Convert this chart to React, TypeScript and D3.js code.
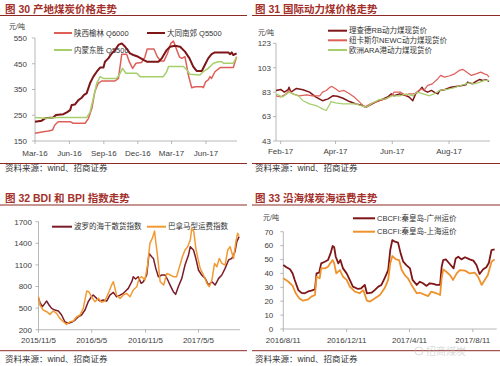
import React from "react";
import * as d3 from "d3";

type Pt = [string, number];

// ---------------- 图30 产地煤炭价格走势 ----------------
const p30XTicks = ["2016-03-01", "2016-06-01", "2016-09-01", "2016-12-01", "2017-03-01", "2017-06-01"];
const p30XLabels = ["Mar-16", "Jun-16", "Sep-16", "Dec-16", "Mar-17", "Jun-17"];
const p30YTicks = [150, 250, 350, 450, 550];
const p30Names = ["陕西榆林 Q6000", "大同南郊 Q5500", "内蒙东胜 Q5500"];
const yulinQ6000: Pt[] = [
  ["2016-03-01", 180], ["2016-03-23", 186], ["2016-04-06", 189], ["2016-04-17", 193], ["2016-04-23", 212],
  ["2016-05-02", 225], ["2016-06-03", 225], ["2016-06-11", 219], ["2016-07-13", 219], ["2016-07-22", 238],
  ["2016-07-31", 277], ["2016-08-08", 342], ["2016-08-17", 374], ["2016-08-26", 383], ["2016-10-01", 383],
  ["2016-10-10", 393], ["2016-10-19", 487], ["2016-11-01", 487], ["2016-11-08", 458], ["2016-11-17", 432],
  ["2016-11-26", 452], ["2016-12-11", 455], ["2016-12-20", 477], ["2016-12-26", 507], ["2017-01-13", 507],
  ["2017-01-22", 477], ["2017-01-31", 461], ["2017-02-09", 461], ["2017-02-18", 490], ["2017-02-27", 529],
  ["2017-03-06", 538], ["2017-03-15", 503], ["2017-03-22", 477], ["2017-03-28", 471], ["2017-04-06", 477],
  ["2017-04-15", 406], ["2017-04-24", 357], ["2017-05-03", 361], ["2017-05-21", 361], ["2017-05-25", 357],
  ["2017-05-31", 380], ["2017-06-07", 387], ["2017-06-12", 400], ["2017-06-16", 393], ["2017-06-25", 419],
  ["2017-07-09", 435], ["2017-08-13", 435], ["2017-08-22", 477],
];
const datongQ5500: Pt[] = [
  ["2016-03-01", 225], ["2016-03-19", 229], ["2016-03-28", 238], ["2016-04-19", 241], ["2016-04-26", 251],
  ["2016-05-16", 254], ["2016-05-25", 261], ["2016-06-03", 270], ["2016-06-07", 290], ["2016-06-16", 292],
  ["2016-06-25", 309], ["2016-07-04", 318], ["2016-07-10", 329], ["2016-07-17", 335], ["2016-07-26", 374],
  ["2016-08-04", 400], ["2016-08-13", 419], ["2016-08-22", 435], ["2016-08-31", 435], ["2016-09-04", 458],
  ["2016-09-13", 471], ["2016-09-22", 490], ["2016-10-01", 503], ["2016-10-10", 523], ["2016-10-19", 529],
  ["2016-10-28", 516], ["2016-11-10", 490], ["2016-11-19", 484], ["2016-12-02", 477], ["2016-12-16", 465],
  ["2016-12-25", 458], ["2017-01-25", 458], ["2017-02-03", 471], ["2017-02-16", 503], ["2017-02-25", 516],
  ["2017-03-10", 520], ["2017-03-24", 516], ["2017-04-06", 497], ["2017-04-18", 471], ["2017-04-28", 439],
  ["2017-05-07", 422], ["2017-05-21", 422], ["2017-05-30", 448], ["2017-06-07", 471], ["2017-06-16", 487],
  ["2017-06-25", 494], ["2017-07-31", 494], ["2017-08-04", 487], ["2017-08-09", 494], ["2017-08-13", 484],
  ["2017-08-22", 490],
];
const dongshengQ5500: Pt[] = [
  ["2016-03-01", 241], ["2016-04-01", 238], ["2016-04-28", 241], ["2016-07-17", 241], ["2016-07-26", 261],
  ["2016-08-04", 316], ["2016-08-13", 374], ["2016-08-22", 400], ["2016-08-31", 393], ["2016-10-05", 393],
  ["2016-10-12", 406], ["2016-10-21", 432], ["2016-10-30", 413], ["2016-11-28", 413], ["2016-12-07", 400],
  ["2017-02-07", 400], ["2017-02-16", 419], ["2017-02-21", 439], ["2017-04-02", 439], ["2017-04-11", 426],
  ["2017-04-19", 409], ["2017-05-16", 406], ["2017-05-25", 419], ["2017-06-07", 432], ["2017-06-16", 445],
  ["2017-06-21", 452], ["2017-07-04", 458], ["2017-07-13", 458], ["2017-07-18", 452], ["2017-08-13", 452],
  ["2017-08-22", 477],
];

// ---------------- 图31 国际动力煤价格走势 ----------------
const p31XTicks = ["2017-02-01", "2017-04-01", "2017-06-01", "2017-08-01"];
const p31XLabels = ["Feb-17", "Apr-17", "Jun-17", "Aug-17"];
const p31YTicks = [43, 63, 83, 103, 123];
const p31Names = ["理查德RB动力煤现货价", "纽卡斯尔NEWC动力煤现货价", "欧洲ARA港动力煤现货价"];
const richardsBay: Pt[] = [
  ["2017-01-27", 84.4], ["2017-02-01", 85.2], ["2017-02-05", 83], ["2017-02-09", 85], ["2017-02-10", 87],
  ["2017-02-12", 83], ["2017-02-18", 86], ["2017-02-25", 85], ["2017-03-04", 83], ["2017-03-11", 79],
  ["2017-03-18", 76], ["2017-03-24", 77.5], ["2017-03-29", 80], ["2017-04-03", 79.7], ["2017-04-09", 78],
  ["2017-04-16", 75.3], ["2017-04-23", 73.4], ["2017-04-30", 72], ["2017-05-04", 70.7], ["2017-05-07", 72],
  ["2017-05-14", 74.8], ["2017-05-21", 77], ["2017-05-27", 79], ["2017-05-31", 81.6], ["2017-06-03", 80],
  ["2017-06-09", 81.6], ["2017-06-16", 80], ["2017-06-19", 79], ["2017-06-23", 76], ["2017-06-26", 81.6],
  ["2017-06-30", 84.4], ["2017-07-03", 87], ["2017-07-05", 84.4], ["2017-07-09", 83], ["2017-07-13", 84.4],
  ["2017-07-16", 83], ["2017-07-20", 81.6], ["2017-07-22", 84.4], ["2017-07-27", 85], ["2017-08-03", 87],
  ["2017-08-12", 88], ["2017-08-19", 89], ["2017-08-21", 91.2], ["2017-08-26", 89.8], ["2017-08-30", 91.8],
  ["2017-09-03", 93.4], ["2017-09-06", 92.6], ["2017-09-10", 93.1], ["2017-09-13", 91.8],
];
const newcastle: Pt[] = [
  ["2017-01-27", 80], ["2017-02-01", 79], ["2017-02-07", 81.6], ["2017-02-10", 84.4], ["2017-02-14", 81.6],
  ["2017-02-21", 80], ["2017-03-01", 80.8], ["2017-03-07", 80], ["2017-03-15", 80], ["2017-03-18", 83],
  ["2017-03-22", 84.4], ["2017-03-26", 87], ["2017-03-28", 87.7], ["2017-04-01", 85.7], ["2017-04-05", 83.5],
  ["2017-04-10", 84.4], ["2017-04-16", 81.6], ["2017-04-21", 79], ["2017-04-27", 74.8], ["2017-05-02", 70.7],
  ["2017-05-05", 72], ["2017-05-11", 74.2], ["2017-05-18", 76], ["2017-05-25", 77.5], ["2017-05-31", 80],
  ["2017-06-03", 83], ["2017-06-10", 83], ["2017-06-16", 80], ["2017-06-19", 81.6], ["2017-06-25", 81.6],
  ["2017-06-28", 83.5], ["2017-07-02", 85.7], ["2017-07-05", 84.4], ["2017-07-09", 88.5], ["2017-07-14", 89.8],
  ["2017-07-20", 94], ["2017-07-23", 96.7], ["2017-07-27", 95.3], ["2017-08-01", 96.2], ["2017-08-07", 98],
  ["2017-08-12", 100.8], ["2017-08-16", 101.6], ["2017-08-19", 100], ["2017-08-25", 96.7], ["2017-08-30", 98],
  ["2017-09-04", 99.4], ["2017-09-08", 98], ["2017-09-11", 97.2], ["2017-09-13", 95.3],
];
const araPort: Pt[] = [
  ["2017-01-27", 81.6], ["2017-02-03", 79], ["2017-02-10", 83], ["2017-02-14", 81.6], ["2017-02-20", 80],
  ["2017-02-25", 76], ["2017-03-04", 73.4], ["2017-03-11", 72], ["2017-03-18", 69.3], ["2017-03-22", 68],
  ["2017-03-26", 73.4], ["2017-03-27", 75.3], ["2017-04-01", 74.2], ["2017-04-09", 73.4], ["2017-04-23", 73.4],
  ["2017-04-30", 71.5], ["2017-05-04", 70.7], ["2017-05-11", 74.2], ["2017-05-18", 77], ["2017-05-25", 77.5],
  ["2017-06-01", 80], ["2017-06-09", 80], ["2017-06-16", 81.6], ["2017-06-23", 80], ["2017-06-28", 83],
  ["2017-07-04", 81.6], ["2017-07-11", 80], ["2017-07-16", 81.6], ["2017-07-22", 84.4], ["2017-07-29", 85.2],
  ["2017-08-05", 86.3], ["2017-08-12", 88], ["2017-08-19", 89.8], ["2017-08-23", 90.7], ["2017-08-28", 89.8],
  ["2017-09-03", 91.2], ["2017-09-08", 92.6], ["2017-09-13", 92.6],
];

// ---------------- 图32 BDI 和 BPI 指数走势 ----------------
const p32XTicks = ["2015-11-05", "2016-05-05", "2016-11-05", "2017-05-05"];
const p32XLabels = ["2015/11/5", "2016/5/5", "2016/11/5", "2017/5/5"];
const p32YTicks = [200, 500, 800, 1100, 1400, 1700];
const p32Names = ["波罗的海干散货指数", "巴拿马型运费指数"];
const bdiIndex: Pt[] = [
  ["2015-11-05", 635], ["2015-11-10", 580], ["2015-11-18", 520], ["2015-11-27", 566], ["2015-12-03", 598],
  ["2015-12-11", 543], ["2015-12-20", 496], ["2015-12-31", 473], ["2016-01-12", 460], ["2016-01-23", 404],
  ["2016-02-03", 311], ["2016-02-15", 288], ["2016-02-26", 302], ["2016-03-09", 334], ["2016-03-20", 380],
  ["2016-03-31", 404], ["2016-04-12", 473], ["2016-04-23", 589], ["2016-05-04", 658], ["2016-05-10", 681],
  ["2016-05-22", 635], ["2016-06-02", 598], ["2016-06-14", 612], ["2016-06-25", 598], ["2016-07-06", 681],
  ["2016-07-18", 718], ["2016-07-29", 658], ["2016-08-10", 681], ["2016-08-21", 705], ["2016-08-29", 737],
  ["2016-09-07", 774], ["2016-09-19", 867], ["2016-09-24", 936], ["2016-10-02", 904], ["2016-10-11", 936],
  ["2016-10-21", 844], ["2016-10-29", 867], ["2016-11-09", 960], ["2016-11-17", 1260], ["2016-11-26", 1214],
  ["2016-12-02", 1190], ["2016-12-10", 1052], ["2016-12-19", 936], ["2016-12-31", 960], ["2017-01-11", 960],
  ["2017-01-20", 890], ["2017-01-28", 820], ["2017-02-08", 728], ["2017-02-16", 691], ["2017-02-25", 797],
  ["2017-03-09", 913], ["2017-03-20", 1098], ["2017-04-01", 1237], ["2017-04-07", 1353], ["2017-04-18", 1307],
  ["2017-04-26", 1190], ["2017-05-05", 1029], ["2017-05-16", 960], ["2017-05-28", 913], ["2017-06-08", 820],
  ["2017-06-20", 867], ["2017-07-01", 820], ["2017-07-13", 913], ["2017-07-24", 960], ["2017-08-04", 1052],
  ["2017-08-16", 1168], ["2017-08-27", 1190], ["2017-09-07", 1283], ["2017-09-13", 1422], ["2017-09-21", 1492],
];
const bpiIndex: Pt[] = [
  ["2015-11-05", 658], ["2015-11-10", 543], ["2015-11-21", 473], ["2015-12-03", 450], ["2015-12-14", 413],
  ["2015-12-25", 460], ["2016-01-06", 427], ["2016-01-17", 357], ["2016-01-29", 311], ["2016-02-09", 274],
  ["2016-02-21", 311], ["2016-03-03", 320], ["2016-03-15", 380], ["2016-03-26", 404], ["2016-04-06", 496],
  ["2016-04-18", 737], ["2016-04-25", 728], ["2016-05-04", 658], ["2016-05-16", 589], ["2016-05-28", 635],
  ["2016-06-08", 580], ["2016-06-19", 598], ["2016-07-03", 728], ["2016-07-12", 820], ["2016-07-18", 867],
  ["2016-07-29", 681], ["2016-08-10", 635], ["2016-08-21", 681], ["2016-09-01", 705], ["2016-09-13", 658],
  ["2016-09-24", 751], ["2016-10-06", 797], ["2016-10-14", 913], ["2016-10-23", 936], ["2016-11-03", 890],
  ["2016-11-12", 1098], ["2016-11-20", 1399], ["2016-11-28", 1468], ["2016-12-06", 1570], ["2016-12-10", 1422],
  ["2016-12-17", 1190], ["2016-12-25", 867], ["2017-01-06", 820], ["2017-01-17", 982], ["2017-01-28", 960],
  ["2017-02-08", 936], ["2017-02-19", 936], ["2017-03-03", 1098], ["2017-03-11", 1214], ["2017-03-20", 1307],
  ["2017-03-29", 1353], ["2017-04-07", 1445], ["2017-04-12", 1608], ["2017-04-19", 1561], ["2017-04-26", 1330],
  ["2017-05-03", 1190], ["2017-05-11", 1052], ["2017-05-22", 960], ["2017-06-03", 844], ["2017-06-11", 797],
  ["2017-06-20", 890], ["2017-06-29", 1121], ["2017-07-07", 1075], ["2017-07-15", 1190], ["2017-07-24", 1121],
  ["2017-08-04", 1098], ["2017-08-13", 1307], ["2017-08-21", 1353], ["2017-09-02", 1190], ["2017-09-10", 1422],
  ["2017-09-16", 1538], ["2017-09-21", 1506],
];

// ---------------- 图33 沿海煤炭海运费走势 ----------------
const p33XTicks = ["2016-08-11", "2016-12-11", "2017-04-11", "2017-08-11"];
const p33XLabels = ["2016/8/11", "2016/12/11", "2017/4/11", "2017/8/11"];
const p33YTicks = [0, 10, 20, 30, 40, 50, 60, 70];
const p33Names = ["CBCFI:秦皇岛-广州运价", "CBCFI:秦皇岛-上海运价"];
const qhdGuangzhou: Pt[] = [
  ["2016-08-11", 46], ["2016-08-17", 44.4], ["2016-08-24", 43], ["2016-08-29", 40], ["2016-09-02", 35.3],
  ["2016-09-09", 28], ["2016-09-15", 26], ["2016-09-21", 25.7], ["2016-09-28", 27], ["2016-10-04", 27.6],
  ["2016-10-11", 28.5], ["2016-10-14", 40], ["2016-10-19", 40.5], ["2016-10-23", 47.2], ["2016-10-30", 48.4],
  ["2016-11-05", 49.6], ["2016-11-10", 54.4], ["2016-11-14", 59.7], ["2016-11-17", 58.8], ["2016-11-20", 52],
  ["2016-11-25", 47.2], ["2016-11-29", 49.6], ["2016-12-04", 43.6], ["2016-12-11", 40], ["2016-12-17", 35.3],
  ["2016-12-23", 30.5], ["2017-01-02", 28.8], ["2017-01-08", 29.3], ["2017-01-15", 31.7], ["2017-01-19", 25.7],
  ["2017-01-28", 26.1], ["2017-02-03", 28], ["2017-02-10", 30.5], ["2017-02-16", 31.7], ["2017-02-22", 36.5],
  ["2017-03-01", 42.4], ["2017-03-05", 56.8], ["2017-03-09", 64], ["2017-03-14", 62.8], ["2017-03-20", 62.1],
  ["2017-03-25", 54.4], ["2017-03-30", 48.4], ["2017-04-05", 46], ["2017-04-12", 43.6], ["2017-04-17", 35.3],
  ["2017-04-25", 31.7], ["2017-05-01", 34], ["2017-05-07", 32.9], ["2017-05-14", 31], ["2017-05-20", 32.9],
  ["2017-05-27", 32.4], ["2017-06-02", 31.7], ["2017-06-09", 31.7], ["2017-06-12", 44.8], ["2017-06-15", 49.6],
  ["2017-06-20", 50.1], ["2017-06-24", 48.4], ["2017-07-01", 45.3], ["2017-07-05", 43.6], ["2017-07-09", 50.8],
  ["2017-07-14", 52], ["2017-07-20", 50.1], ["2017-07-27", 51.6], ["2017-08-05", 50.1], ["2017-08-12", 49.2],
  ["2017-08-18", 46], ["2017-08-24", 39.6], ["2017-08-31", 43], ["2017-09-06", 44.4], ["2017-09-11", 47.7],
  ["2017-09-16", 56.8], ["2017-09-22", 57.3],
];
const qhdShanghai: Pt[] = [
  ["2016-08-11", 36.5], ["2016-08-21", 34], ["2016-08-29", 31], ["2016-09-04", 25.7], ["2016-09-11", 22],
  ["2016-09-18", 20.4], ["2016-09-28", 21.3], ["2016-10-04", 23.3], ["2016-10-11", 24.5], ["2016-10-14", 37.6],
  ["2016-10-20", 36.5], ["2016-10-23", 43.6], ["2016-10-30", 43.6], ["2016-11-05", 44.8], ["2016-11-10", 47.7],
  ["2016-11-14", 49.6], ["2016-11-17", 47.2], ["2016-11-21", 40], ["2016-11-28", 42.4], ["2016-12-04", 37.6],
  ["2016-12-11", 35.3], ["2016-12-17", 30.5], ["2016-12-27", 26.9], ["2017-01-05", 25.7], ["2017-01-12", 28],
  ["2017-01-19", 20.4], ["2017-01-25", 19.7], ["2017-02-03", 22], ["2017-02-13", 24.5], ["2017-02-22", 29.3],
  ["2017-03-01", 35.3], ["2017-03-05", 47.2], ["2017-03-09", 52.5], ["2017-03-16", 50.1], ["2017-03-22", 49.6],
  ["2017-03-27", 42.4], ["2017-04-02", 38.8], ["2017-04-08", 36.5], ["2017-04-15", 31.7], ["2017-04-25", 25.7],
  ["2017-05-01", 26.1], ["2017-05-11", 24.5], ["2017-05-17", 23.7], ["2017-05-23", 26.9], ["2017-06-02", 25.7],
  ["2017-06-09", 24.5], ["2017-06-12", 36.5], ["2017-06-15", 42.9], ["2017-06-21", 41.2], ["2017-06-28", 38.8],
  ["2017-07-04", 35.3], ["2017-07-11", 40], ["2017-07-17", 42.4], ["2017-07-27", 42], ["2017-08-05", 40],
  ["2017-08-15", 40.5], ["2017-08-21", 37.6], ["2017-08-28", 31.7], ["2017-09-03", 35.3], ["2017-09-09", 38.8],
  ["2017-09-16", 48.4], ["2017-09-22", 50.1],
];

const SOURCE = "资料来源：wind、招商证券";
const UNIT = "元/吨";
const WATERMARK = "招商煤炭";

// ---------------- rendering ----------------
const FONT = "'Liberation Sans', Arial, 'Noto Sans CJK SC', sans-serif";
const RULE = "#8E2A24";
const TITLE = "#A3302A";
const AXIS = "#A6A6A6";
const LABEL = "#404040";
const parse = d3.timeParse("%Y-%m-%d");

interface SeriesCfg {
  name: string;
  data: Pt[];
  color: string;
  width: number;
  lx1: number;
  lx2: number;
  ly: number;
}

interface PanelCfg {
  title: string;
  bandL: number;
  bandR: number;
  titleX: number;
  titleY: number;
  ruleY: number;
  footY: number;
  sourceY: number;
  left: number;
  right: number;
  top: number;
  bottom: number;
  xDomain: [string, string];
  yDomain: [number, number];
  xTicks: string[];
  xLabels: string[];
  xLabelY: number;
  yTicks: number[];
  yGap: number;
  unit?: { x: number; y: number };
  series: SeriesCfg[];
}

function Panel({ c }: { c: PanelCfg }) {
  const x = d3
    .scaleTime()
    .domain([parse(c.xDomain[0])!, parse(c.xDomain[1])!])
    .range([c.left, c.right]);
  const y = d3.scaleLinear().domain(c.yDomain).range([c.bottom, c.top]);
  const line = d3
    .line<Pt>()
    .x((d) => x(parse(d[0])!))
    .y((d) => y(d[1]));
  return (
    <g fontFamily={FONT}>
      <text x={c.titleX} y={c.titleY} fontSize={10.5} fontWeight="bold" fill={TITLE}>
        {c.title}
      </text>
      <line x1={c.bandL} x2={c.bandR} y1={c.ruleY} y2={c.ruleY} stroke={RULE} strokeWidth={1} />
      <line x1={c.bandL} x2={c.bandR} y1={c.footY} y2={c.footY} stroke={RULE} strokeWidth={1} />
      <text x={c.titleX} y={c.sourceY} fontSize={8.5} fill="#333">
        {SOURCE}
      </text>
      {c.unit && (
        <text x={c.unit.x} y={c.unit.y} fontSize={7} fill={LABEL}>
          {UNIT}
        </text>
      )}
      {/* y axis */}
      <line x1={c.left} x2={c.left} y1={y(c.yDomain[1])} y2={c.bottom} stroke={AXIS} strokeWidth={0.8} />
      {c.yTicks.map((t) => (
        <g key={"y" + t}>
          <line x1={c.left - 3} x2={c.left} y1={y(t)} y2={y(t)} stroke={AXIS} strokeWidth={0.8} />
          <text x={c.left - c.yGap} y={y(t)} dy="0.35em" textAnchor="end" fontSize={8} fill={LABEL}>
            {t}
          </text>
        </g>
      ))}
      {/* x axis */}
      <line x1={c.left} x2={c.right} y1={c.bottom} y2={c.bottom} stroke={AXIS} strokeWidth={0.8} />
      {c.xTicks.map((t, i) => {
        const px = x(parse(t)!);
        return (
          <g key={"x" + t}>
            <line x1={px} x2={px} y1={c.bottom} y2={c.bottom + 3} stroke={AXIS} strokeWidth={0.8} />
            <text x={px} y={c.xLabelY} textAnchor="middle" fontSize={8} fill={LABEL}>
              {c.xLabels[i]}
            </text>
          </g>
        );
      })}
      {/* legend */}
      {c.series.map((s) => (
        <g key={"lg" + s.name}>
          <line x1={s.lx1} x2={s.lx2} y1={s.ly} y2={s.ly} stroke={s.color} strokeWidth={2} />
          <text x={s.lx2 + 2} y={s.ly} dy="0.35em" fontSize={7.5} fill="#333">
            {s.name}
          </text>
        </g>
      ))}
      {/* lines */}
      {c.series.map((s) => (
        <path
          key={"ln" + s.name}
          d={line(s.data) || ""}
          fill="none"
          stroke={s.color}
          strokeWidth={s.width}
          strokeLinejoin="round"
        />
      ))}
    </g>
  );
}

export default function App() {
  const DARK = "#7E1517";
  const RED = "#DE5F58";
  const GREEN = "#A6CF6B";
  const ORANGE = "#F39A33";

  const p30: PanelCfg = {
    title: "图 30 产地煤炭价格走势",
    bandL: 0, bandR: 247, titleX: 5, titleY: 12.5, ruleY: 15.5, footY: 163.5, sourceY: 171,
    left: 35, right: 237, top: 38, bottom: 141,
    xDomain: ["2016-03-01", "2017-08-23"], yDomain: [150, 550],
    xTicks: p30XTicks, xLabels: p30XLabels, xLabelY: 155.5, yTicks: p30YTicks, yGap: 8,
    unit: { x: 9, y: 29 },
    series: [
      { name: p30Names[0], data: yulinQ6000, color: RED, width: 1.5, lx1: 54, lx2: 72, ly: 33 },
      { name: p30Names[1], data: datongQ5500, color: DARK, width: 2, lx1: 147, lx2: 165, ly: 33 },
      { name: p30Names[2], data: dongshengQ5500, color: GREEN, width: 1.5, lx1: 54, lx2: 72, ly: 50 },
    ],
  };
  const p31: PanelCfg = {
    title: "图 31 国际动力煤价格走势",
    bandL: 252, bandR: 500, titleX: 255, titleY: 12.5, ruleY: 15.5, footY: 163.5, sourceY: 171,
    left: 276, right: 490, top: 43.3, bottom: 141,
    xDomain: ["2017-01-27", "2017-09-14"], yDomain: [43, 123],
    xTicks: p31XTicks, xLabels: p31XLabels, xLabelY: 153.5, yTicks: p31YTicks, yGap: 5,
    unit: { x: 258, y: 35 },
    series: [
      { name: p31Names[0], data: richardsBay, color: DARK, width: 1.5, lx1: 328, lx2: 347, ly: 30.7 },
      { name: p31Names[1], data: newcastle, color: RED, width: 1.2, lx1: 328, lx2: 347, ly: 40.3 },
      { name: p31Names[2], data: araPort, color: GREEN, width: 1.2, lx1: 328, lx2: 347, ly: 50 },
    ],
  };
  const p32: PanelCfg = {
    title: "图 32 BDI 和 BPI 指数走势",
    bandL: 0, bandR: 247, titleX: 5, titleY: 201.5, ruleY: 205, footY: 350.7, sourceY: 361.5,
    left: 38.5, right: 240, top: 221.7, bottom: 329.7,
    xDomain: ["2015-11-05", "2017-09-24"], yDomain: [200, 1700],
    xTicks: p32XTicks, xLabels: p32XLabels, xLabelY: 342.5, yTicks: p32YTicks, yGap: 6.5,
    series: [
      { name: p32Names[0], data: bdiIndex, color: "#7A1C2A", width: 1.5, lx1: 52, lx2: 72, ly: 226.7 },
      { name: p32Names[1], data: bpiIndex, color: ORANGE, width: 1.5, lx1: 147, lx2: 166, ly: 226.7 },
    ],
  };
  const p33: PanelCfg = {
    title: "图 33 沿海煤炭海运费走势",
    bandL: 252, bandR: 500, titleX: 255, titleY: 201.5, ruleY: 205, footY: 350.7, sourceY: 361.5,
    left: 283.3, right: 496.7, top: 231.7, bottom: 329,
    xDomain: ["2016-08-11", "2017-09-26"], yDomain: [0, 70],
    xTicks: p33XTicks, xLabels: p33XLabels, xLabelY: 342.5, yTicks: p33YTicks, yGap: 10,
    unit: { x: 263, y: 220 },
    series: [
      { name: p33Names[0], data: qhdGuangzhou, color: DARK, width: 1.8, lx1: 353, lx2: 375, ly: 218.3 },
      { name: p33Names[1], data: qhdShanghai, color: "#F0922C", width: 1.8, lx1: 353, lx2: 375, ly: 231.7 },
    ],
  };

  return (
    <svg
      width={500}
      height={366}
      viewBox="0 0 500 366"
      style={{ position: "absolute", left: 0, top: 0, background: "#fff" }}
    >
      <rect x={0} y={0} width={500} height={366} fill="#fff" />
      <Panel c={p30} />
      <Panel c={p31} />
      <Panel c={p32} />
      <Panel c={p33} />
      <g opacity={0.5}>
        <circle cx={419} cy={351} r={4} fill="none" stroke="#bbb" strokeWidth={1} />
        <text x={426} y={355} fontSize={10} fill="#bbb" fontFamily="'Noto Sans CJK SC', sans-serif">
          {WATERMARK}
        </text>
      </g>
    </svg>
  );
}
